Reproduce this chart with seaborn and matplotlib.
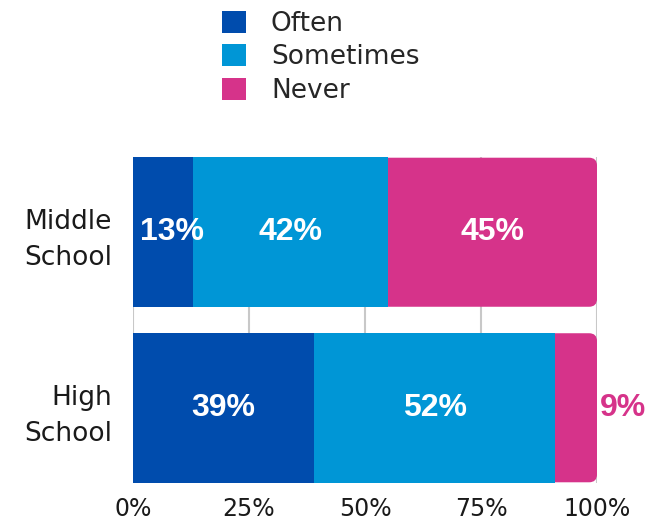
import matplotlib
matplotlib.use("Agg")
import matplotlib.pyplot as plt
from matplotlib.patches import FancyBboxPatch, Patch
import seaborn as sns
import pandas as pd

schools = ["Middle\nSchool", "High\nSchool"]
often = [13, 39]
sometimes = [42, 52]
never = [45, 9]
answers = ["Often", "Sometimes", "Never"]
colors = ["#004CAD", "#0096D6", "#D6338A"]

df = pd.DataFrame({"school": schools, "Often": often,
                   "Sometimes": sometimes, "Never": never})
df["cum_Often"] = df["Often"]
df["cum_Sometimes"] = df["cum_Often"] + df["Sometimes"]
df["cum_Never"] = df["cum_Sometimes"] + df["Never"]

sns.set_style("white")
plt.rcParams["font.family"] = ["DejaVu Sans"]

fig = plt.figure(figsize=(6.63, 5.23), dpi=100)
ax = fig.add_axes([0.2006, 0.0765, 0.6999, 0.6233])

bar_w = 150 / 175
# stacked bars drawn as overlapping cumulative bars, longest first
for ans, c in zip(answers[::-1], colors[::-1]):
    sns.barplot(data=df, y="school", x="cum_" + ans, color=c, orient="h",
                width=bar_w, saturation=1, linewidth=0, edgecolor="none",
                ax=ax, zorder=2)

# replace the "Never" bars by boxes with a rounded right end,
# starting just under the end of the "Sometimes" segment
for rect, start in zip(list(ax.containers[0].patches), df["cum_Sometimes"]):
    x, y = rect.get_xy()
    x0 = start - 2
    inset = 0.004
    box = FancyBboxPatch((x0, y + inset), x + rect.get_width() - x0,
                         rect.get_height() - 2 * inset,
                         boxstyle="round,pad=0,rounding_size=1.7",
                         mutation_aspect=0.027, fc=colors[2], ec="none",
                         lw=0, zorder=1.9)
    rect.remove()
    ax.add_patch(box)

# value labels
lab_kw = dict(fontsize=23, fontweight="bold", family="Liberation Sans",
              va="center", zorder=3)
for i, row in df.iterrows():
    for ans, c in zip(answers, colors):
        val = row[ans]
        end = row["cum_" + ans]
        if val < 10:
            ax.text(end + 0.6, i, f"{val}%", ha="left", color=c, **lab_kw)
        elif val < 15:
            ax.text(end - val + 1.5, i, f"{val}%", ha="left", color="white",
                    **lab_kw)
        else:
            ax.text(end - val / 2, i, f"{val}%", ha="center", color="white",
                    **lab_kw)

ax.set_xlim(0, 100)
ax.set_ylim(1 + bar_w / 2, -bar_w / 2)
ax.set_xticks([0, 25, 50, 75, 100])
ax.set_xticklabels([f"{t}%" for t in [0, 25, 50, 75, 100]])
ax.set_xlabel("")
ax.set_ylabel("")
ax.set_axisbelow(True)
ax.xaxis.grid(True, color="#c8c8c8", lw=1.5)
ax.yaxis.grid(False)
for s in ax.spines.values():
    s.set_visible(False)
ax.tick_params(axis="x", length=0, pad=10, labelsize=17, colors="#1a1a1a")
ax.tick_params(axis="y", length=0, pad=15, labelsize=19, colors="#1a1a1a")
for lab in ax.get_yticklabels():
    lab.set_multialignment("right")
    lab.set_linespacing(1.5)

handles = [Patch(fc=c, ec="none") for c in colors]
fig.legend(handles=handles, labels=answers, loc="upper left",
           bbox_to_anchor=(0.335, 0.979), frameon=False, fontsize=19,
           handlelength=0.9, handleheight=0.9, handletextpad=0.95,
           labelspacing=0.28, borderpad=0, borderaxespad=0)

fig.savefig("out.png", dpi=100)
